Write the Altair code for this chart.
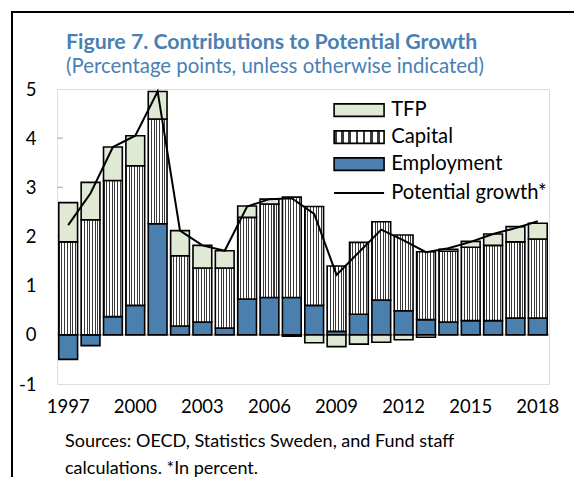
import json
import altair as alt
import pandas as pd

# ---------------- data ----------------
years = list(range(1997, 2019))
employment = [-0.50, -0.22, 0.37, 0.60, 2.26, 0.18, 0.26, 0.14, 0.73, 0.76, 0.76,
              0.60, 0.07, 0.42, 0.71, 0.49, 0.31, 0.26, 0.29, 0.29, 0.34, 0.34]
capital = [1.89, 2.34, 2.77, 2.84, 2.13, 1.43, 1.10, 1.22, 1.66, 1.90, 2.04,
           2.01, 1.33, 1.46, 1.59, 1.54, 1.38, 1.44, 1.49, 1.53, 1.55, 1.61]
tfp = [0.80, 0.76, 0.68, 0.61, 0.56, 0.51, 0.46, 0.35, 0.23, 0.10, -0.03,
       -0.16, -0.24, -0.19, -0.15, -0.10, -0.05, 0.04, 0.12, 0.23, 0.31, 0.32]
potential = [2.23, 2.88, 3.82, 4.05, 4.95, 2.12, 1.82, 1.71, 2.61, 2.76, 2.78,
             2.46, 1.22, 1.68, 2.14, 1.92, 1.68, 1.76, 1.89, 2.05, 2.17, 2.31]

components = ["TFP", "Capital", "Employment"]
stack_order = {"Employment": 0, "Capital": 1, "TFP": 2}
year_labels = [1997, 2000, 2003, 2006, 2009, 2012, 2015, 2018]
y_ticks = [-1, 0, 1, 2, 3, 4, 5]
inner_ticks = [1, 2, 3, 4]
line_name = "Potential growth*"

title_text = "Figure 7. Contributions to Potential Growth"
subtitle_text = "(Percentage points, unless otherwise indicated)"
note_lines = ["Sources: OECD, Statistics Sweden, and Fund staff",
              "calculations. *In percent."]

# ---------------- tables ----------------
rows = []
for comp, vals in (("Employment", employment), ("Capital", capital), ("TFP", tfp)):
    for yr, v in zip(years, vals):
        rows.append({"year": yr, "component": comp, "value": v, "order": stack_order[comp]})
df_bars = pd.DataFrame(rows)
df_line = pd.DataFrame({"year": years, "potential": potential, "series": line_name})

# striped fill (vertical lines) as a linear gradient expression
n_stripes = 7
stops = []
for i in range(n_stripes):
    a = i / n_stripes
    b = (i + 0.38) / n_stripes
    c = (i + 1) / n_stripes
    stops += [(a, "#3a3a3a"), (b, "#3a3a3a"), (b, "#ffffff"), (c, "#ffffff")]
stops_js = ",".join("{offset:%.4f,color:'%s'}" % (o, col) for o, col in stops)
stripe_expr = "{gradient:'linear',x1:0,y1:0,x2:1,y2:0,stops:[%s]}" % stops_js

FONT = "Lato"
GREY = "#bfbfbf"
BLUE_TITLE = "#4a80b3"

x_enc = alt.X("year:O",
              scale=alt.Scale(paddingInner=0.16, paddingOuter=0.08),
              axis=alt.Axis(values=year_labels, labelAngle=0, domain=False, ticks=False,
                            labelPadding=13, labelFontSize=18.5, labelFont=FONT,
                            labelColor="black", title=None))

y_scale = alt.Scale(domain=[-1, 5], nice=False)

bars = alt.Chart(df_bars).mark_bar(stroke="black", strokeWidth=1.6).encode(
    x=x_enc,
    y=alt.Y("value:Q", stack="zero", scale=y_scale,
            axis=alt.Axis(values=y_ticks, grid=False, domain=False, ticks=False,
                          labelPadding=21, labelFontSize=18.5, labelFont=FONT,
                          labelColor="black", labelFlush=False, title=None,
                          labelExpr="replace(datum.label, '\u2212', '-')")),
    fill=alt.Fill("component:N",
                  scale=alt.Scale(domain=components,
                                  range=["#dfe9d3", {"expr": stripe_expr}, "#4a7fae"]),
                  legend=alt.Legend(orient="none", legendX=292, legendY=11, title=None,
                                    symbolType="M-4,-1H4V1H-4Z", symbolSize=156,
                                    symbolStrokeColor="black", symbolStrokeWidth=1.6,
                                    labelFontSize=20.2, labelFont=FONT, labelColor="black",
                                    labelOffset=22, rowPadding=6, padding=0)),
    order=alt.Order("order:Q"),
)

line = alt.Chart(df_line).mark_line(strokeWidth=2).encode(
    x=x_enc,
    y=alt.Y("potential:Q", scale=y_scale),
    stroke=alt.Stroke("series:N",
                      scale=alt.Scale(domain=[line_name], range=["black"]),
                      legend=alt.Legend(orient="none", legendX=292, legendY=94, title=None,
                                        symbolType="M-4,0H4", symbolSize=156,
                                        symbolStrokeWidth=2,
                                        labelFontSize=20.2, labelFont=FONT, labelColor="black",
                                        labelOffset=22, padding=0)),
)

zero_line = alt.Chart(pd.DataFrame({"v": [0]})).mark_rule(color=GREY, strokeWidth=2).encode(
    y=alt.Y("v:Q", scale=y_scale))

tick_marks = alt.Chart(pd.DataFrame({"v": inner_ticks})).mark_rule(
    color=GREY, strokeWidth=1.5).encode(
    y=alt.Y("v:Q", scale=y_scale), x=alt.value(0), x2=alt.value(6))

title = alt.Chart(pd.DataFrame({"t": [title_text]})).mark_text(
    align="left", baseline="alphabetic", font=FONT, fontSize=21.3, fontWeight="bold",
    color=BLUE_TITLE).encode(x=alt.value(9), y=alt.value(-40), text="t:N")

subtitle = alt.Chart(pd.DataFrame({"t": [subtitle_text]})).mark_text(
    align="left", baseline="alphabetic", font=FONT, fontSize=20.4,
    color=BLUE_TITLE).encode(x=alt.value(9), y=alt.value(-16), text="t:N")

note1 = alt.Chart(pd.DataFrame({"t": [note_lines[0]]})).mark_text(
    align="left", baseline="alphabetic", font=FONT, fontSize=18,
    color="black").encode(x=alt.value(8), y=alt.value(358), text="t:N")
note2 = alt.Chart(pd.DataFrame({"t": [note_lines[1]]})).mark_text(
    align="left", baseline="alphabetic", font=FONT, fontSize=18,
    color="black").encode(x=alt.value(8), y=alt.value(385), text="t:N")

frame_left = alt.Chart(pd.DataFrame({"f": [0]})).mark_rule(color="black", strokeWidth=2).encode(
    x=alt.value(-45), y=alt.value(-77), y2=alt.value(420))
frame_top = alt.Chart(pd.DataFrame({"f": [0]})).mark_rule(color="black", strokeWidth=2).encode(
    x=alt.value(-46), x2=alt.value(560), y=alt.value(-77))

chart = alt.layer(
    zero_line, tick_marks, bars, line, title, subtitle, note1, note2, frame_left, frame_top
).resolve_scale(fill="independent", stroke="independent").properties(
    width=492, height=295,
    autosize=alt.AutoSizeParams(type="none"),
    padding={"left": 49, "top": 81, "right": 25, "bottom": 93},
).configure_view(stroke=GREY, strokeWidth=2).configure(background="white")

chart.save("out.html", embed_options={"renderer": "svg", "actions": False})
